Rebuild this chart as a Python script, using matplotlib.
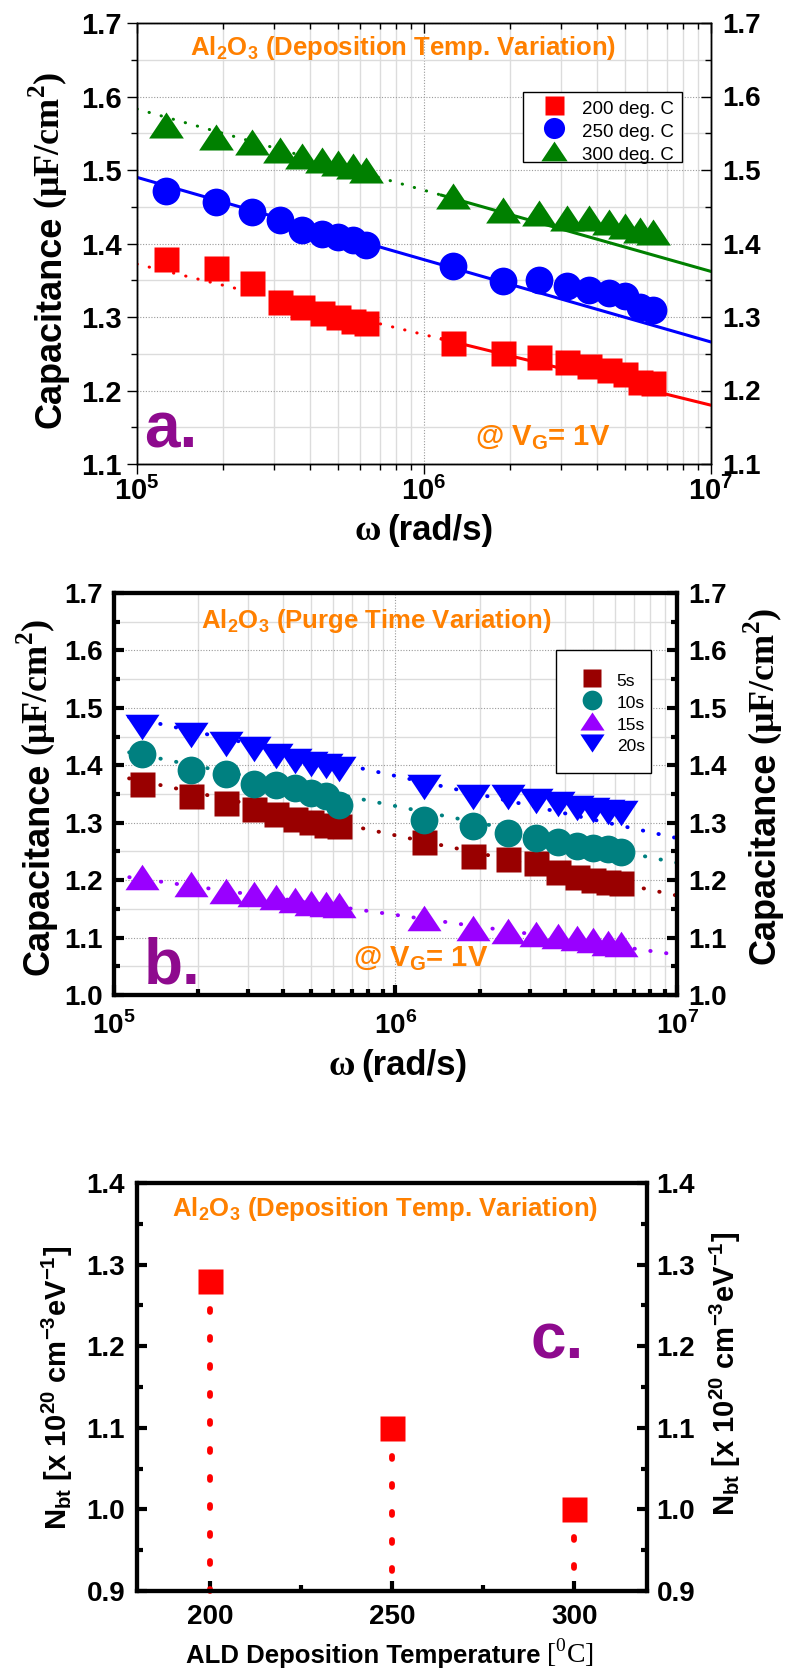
import numpy as np
import matplotlib
matplotlib.use("Agg")
from matplotlib import pyplot as plt
from matplotlib.lines import Line2D
from matplotlib.patches import Rectangle
from matplotlib.ticker import MultipleLocator, LogLocator, NullFormatter, FuncFormatter, FormatStrFormatter

SANS = "Liberation Sans"
SERIF = "Liberation Serif"
plt.rcParams["font.family"] = [SANS, "DejaVu Sans"]
plt.rcParams["font.weight"] = "bold"

# angular frequencies (rad/s), shared by panels a and b
omega = [1.26e5, 1.88e5, 2.51e5, 3.14e5, 3.77e5, 4.40e5, 5.03e5, 5.65e5, 6.28e5,
         1.26e6, 1.88e6, 2.51e6, 3.14e6, 3.77e6, 4.40e6, 5.03e6, 5.65e6, 6.28e6]

# panel a: capacitance vs deposition temperature (uF/cm^2)
temp_labels = ["200 deg. C", "250 deg. C", "300 deg. C"]
cap_200 = [1.379, 1.367, 1.346, 1.320, 1.313, 1.305, 1.300, 1.295, 1.292,
           1.265, 1.251, 1.246, 1.239, 1.233, 1.228, 1.222, 1.211, 1.210]
cap_250 = [1.471, 1.457, 1.443, 1.432, 1.419, 1.413, 1.409, 1.405, 1.398,
           1.370, 1.349, 1.350, 1.342, 1.337, 1.333, 1.328, 1.314, 1.310]
cap_300 = [1.561, 1.545, 1.538, 1.527, 1.519, 1.513, 1.510, 1.506, 1.500,
           1.465, 1.446, 1.441, 1.435, 1.435, 1.429, 1.424, 1.419, 1.415]
fit_omega = [1e5, 1e7]
fit_200 = [1.372, 1.180]
fit_250 = [1.490, 1.266]
fit_300 = [1.583, 1.362]
solid_from = 1.15e6

# panel b: capacitance vs purge time
purge_labels = ["5s", "10s", "15s", "20s"]
purge_5s = [1.367, 1.346, 1.335, 1.324, 1.315, 1.307, 1.302, 1.296, 1.294,
            1.266, 1.242, 1.236, 1.229, 1.214, 1.205, 1.200, 1.197, 1.195]
purge_10s = [1.419, 1.392, 1.385, 1.368, 1.365, 1.360, 1.352, 1.347, 1.331,
             1.304, 1.294, 1.282, 1.273, 1.266, 1.260, 1.256, 1.254, 1.249]
purge_15s = [1.205, 1.193, 1.181, 1.176, 1.170, 1.165, 1.161, 1.159, 1.156,
             1.134, 1.117, 1.111, 1.107, 1.102, 1.099, 1.096, 1.091, 1.089]
purge_20s = [1.466, 1.452, 1.437, 1.428, 1.417, 1.408, 1.403, 1.398, 1.393,
             1.363, 1.344, 1.344, 1.338, 1.332, 1.326, 1.322, 1.318, 1.317]
fit_5s = [1.383, 1.173]
fit_10s = [1.428, 1.230]
fit_15s = [1.209, 1.070]
fit_20s = [1.490, 1.273]

# panel c: border trap density
dep_temps = [200, 250, 300]
nbt = [1.28, 1.10, 1.00]

W_PX, H_PX = 785, 1675
ORANGE = "#ff8000"
LABEL_PURPLE = "#8e0a8e"

TRI_UP = [(-1, -0.75), (1, -0.75), (0, 0.75)]
TRI_DOWN = [(-1, 0.75), (1, 0.75), (0, -0.75)]
DOT = (0, (0.1, 4.0))


def rect(left, top, right, bottom):
    return [left / W_PX, 1 - bottom / H_PX, (right - left) / W_PX, (bottom - top) / H_PX]


def rich_label(fig, px, py, pieces, vertical=False, gap=6):
    # lay several differently styled strings end to end, centred on (px, py)
    r = fig.canvas.get_renderer()
    items = []
    for s, kw in pieces:
        t = fig.text(0, 0, s, rotation=90 if vertical else 0, rotation_mode="anchor",
                     ha="left", va="baseline", **kw)
        bb = t.get_window_extent(r)
        items.append((t, bb.height if vertical else bb.width))
    total = sum(w for _, w in items) + gap * (len(items) - 1)
    if vertical:
        pos = (H_PX - py) - total / 2
        for t, w in items:
            t.set_position((px / W_PX, pos / H_PX))
            pos += w + gap
    else:
        pos = px - total / 2
        for t, w in items:
            t.set_position((pos / W_PX, 1 - py / H_PX))
            pos += w + gap


def boxed_legend(ax, handles, labels, box, anchor, size, hlen, hpad, row_px, mscale):
    # legend entries inside a plain rectangular frame
    ax.add_patch(Rectangle(box[:2], box[2], box[3], transform=ax.transAxes,
                           fc="white", ec="black", lw=1.0, zorder=9))
    fs_px = size * 100 / 72
    # row height of a legend entry is about fontsize * (0.65 * handleheight + 0.245)
    hh = (row_px / fs_px - 0.245) / 0.65
    leg = ax.legend(handles, labels, loc="upper left", bbox_to_anchor=anchor,
                    prop={"family": SANS, "weight": "normal", "size": size},
                    frameon=False, borderpad=0, borderaxespad=0,
                    handlelength=hlen, handleheight=hh, handletextpad=hpad,
                    labelspacing=0, markerscale=mscale)
    leg.set_zorder(10)


def log_label(v, pos):
    return "10$^\\mathregular{%d}$" % round(np.log10(v))


def setup_log_x(ax):
    ax.set_xscale("log")
    ax.set_xlim(1e5, 1e7)
    ax.xaxis.set_major_locator(LogLocator(base=10))
    ax.xaxis.set_minor_locator(LogLocator(base=10, subs=np.arange(2, 10)))
    ax.xaxis.set_minor_formatter(NullFormatter())
    ax.xaxis.set_major_formatter(FuncFormatter(log_label))


def setup_y(ax, lo, hi):
    ax.set_ylim(lo, hi)
    ax.yaxis.set_major_locator(MultipleLocator(0.1))
    ax.yaxis.set_minor_locator(MultipleLocator(0.05))
    ax.yaxis.set_major_formatter(FormatStrFormatter("%.1f"))


def add_grid(ax):
    ax.grid(which="major", color="#9a9a9a", ls=(0, (1, 1.5)), lw=0.8)
    ax.grid(which="minor", color="#dcdcdc", ls="-", lw=1.0)
    ax.set_axisbelow(True)


def right_twin(ax, lo, hi, lw, pad):
    axr = ax.twinx()
    setup_y(axr, lo, hi)
    axr.tick_params(which="both", direction="in", width=lw, labelsize=20, pad=pad)
    axr.tick_params(which="major", length=7)
    axr.tick_params(which="minor", length=4)
    for sp in axr.spines.values():
        sp.set_linewidth(lw)
    return axr


def fit_line(ax, fit, color, dotted_until=None):
    lx = np.log10(fit_omega)
    if dotted_until is None:
        ax.plot(fit_omega, fit, color=color, lw=2.8, ls=DOT, dash_capstyle="round", zorder=4)
        return
    yb = np.interp(np.log10(dotted_until), lx, fit)
    ax.plot([fit_omega[0], dotted_until], [fit[0], yb], color=color, lw=2.2, ls=DOT,
            dash_capstyle="round", zorder=4)
    ax.plot([dotted_until, fit_omega[1]], [yb, fit[1]], color=color, lw=2.2, zorder=4)


def panel_a(fig):
    ax = fig.add_axes(rect(137, 23, 711, 464))
    setup_log_x(ax)
    setup_y(ax, 1.1, 1.7)
    add_grid(ax)
    ax.tick_params(which="both", direction="out", width=1, labelsize=21)
    ax.tick_params(axis="x", pad=2)
    ax.tick_params(axis="y", pad=4)
    ax.tick_params(which="major", length=7)
    ax.tick_params(which="minor", length=4)

    ax.plot(omega, cap_200, "s", color="#ff0000", ms=18, mec="none", zorder=3)
    ax.plot(omega, cap_250, "o", color="#0000ff", ms=20, mec="none", zorder=3)
    ax.plot(omega, cap_300, marker=TRI_UP, ls="none", color="#008000", ms=25, mec="none", zorder=3)
    fit_line(ax, fit_200, "#ff0000", solid_from)
    fit_line(ax, fit_250, "#0000ff", fit_omega[0])
    fit_line(ax, fit_300, "#008000", solid_from)

    handles = [Line2D([], [], marker="s", ls="none", color="#ff0000", ms=18, mec="none"),
               Line2D([], [], marker="o", ls="none", color="#0000ff", ms=20, mec="none"),
               Line2D([], [], marker=TRI_UP, ls="none", color="#008000", ms=25, mec="none")]
    boxed_legend(ax, handles, temp_labels, (0.672, 0.685, 0.277, 0.159), (0.704, 0.834),
                 13.5, 1.4, 0.79, 23, 0.76)

    ax.text(0.464, 0.927, "Al$_\\mathregular{2}$O$_\\mathregular{3}$ (Deposition Temp. Variation)",
            transform=ax.transAxes, ha="center", va="baseline", color=ORANGE, size=18.5)
    ax.text(0.706, 0.043, "@ V$_\\mathregular{G}$= 1V", transform=ax.transAxes,
            ha="center", va="baseline", color=ORANGE, size=21)
    ax.text(0.012, 0.038, "a.", transform=ax.transAxes, ha="left", va="baseline",
            color=LABEL_PURPLE, size=46)
    for sp in ax.spines.values():
        sp.set_linewidth(1.0)

    right_twin(ax, 1.1, 1.7, 1.0, 8)
    axt = ax.twiny()
    setup_log_x(axt)
    axt.tick_params(which="both", direction="in", labeltop=False, width=1)
    axt.tick_params(which="major", length=7)
    axt.tick_params(which="minor", length=4)

    rich_label(fig, 60, 250, [("Capacitance", dict(family=SANS, weight="bold", size=26)),
                              ("(μF/cm$^\\mathregular{2}$)", dict(family=SERIF, weight="bold", size=26))],
               vertical=True)
    rich_label(fig, 424, 540, [("ω", dict(family=SERIF, weight="bold", size=26)),
                               ("(rad/s)", dict(family=SANS, weight="bold", size=25))])


def panel_b(fig):
    ax = fig.add_axes(rect(113.5, 593, 677.5, 995))
    setup_log_x(ax)
    setup_y(ax, 1.0, 1.7)
    add_grid(ax)
    ax.tick_params(which="both", direction="in", width=3, labelsize=20, top=False)
    ax.tick_params(axis="x", pad=12)
    ax.tick_params(axis="y", pad=7.5)
    ax.tick_params(which="major", length=7)
    ax.tick_params(which="minor", length=4)

    series = [(purge_5s, fit_5s, "s", "#990000", 18),
              (purge_10s, fit_10s, "o", "#008080", 20),
              (purge_15s, fit_15s, TRI_UP, "#9900ff", 24.5),
              (purge_20s, fit_20s, TRI_DOWN, "#0000ff", 24.5)]
    handles = []
    for vals, fit, mk, col, ms in series:
        ax.plot(omega, vals, marker=mk, ls="none", color=col, ms=ms, mec="none", zorder=3)
        fit_line(ax, fit, col)
        handles.append(Line2D([], [], marker=mk, ls="none", color=col, ms=ms, mec="none"))
    boxed_legend(ax, handles, purge_labels, (0.785, 0.551, 0.168, 0.307), (0.823, 0.809),
                 12.5, 1.6, 0.65, 21.7, 0.71)

    ax.text(0.465, 0.912, "Al$_\\mathregular{2}$O$_\\mathregular{3}$ (Purge Time Variation)",
            transform=ax.transAxes, ha="center", va="baseline", color=ORANGE, size=18.5)
    ax.text(0.545, 0.072, "@ V$_\\mathregular{G}$= 1V", transform=ax.transAxes,
            ha="center", va="baseline", color=ORANGE, size=21)
    ax.text(0.053, 0.028, "b.", transform=ax.transAxes, ha="left", va="baseline",
            color=LABEL_PURPLE, size=46)
    for sp in ax.spines.values():
        sp.set_linewidth(3)
    right_twin(ax, 1.0, 1.7, 3, 8)

    cap_pieces = [("Capacitance", dict(family=SANS, weight="bold", size=26)),
                  ("(μF/cm$^\\mathregular{2}$)", dict(family=SERIF, weight="bold", size=26))]
    rich_label(fig, 48, 797, cap_pieces, vertical=True)
    rich_label(fig, 775, 786, cap_pieces, vertical=True)
    rich_label(fig, 398, 1075, [("ω", dict(family=SERIF, weight="bold", size=26)),
                                ("(rad/s)", dict(family=SANS, weight="bold", size=25))])


def panel_c(fig):
    ax = fig.add_axes(rect(137, 1183, 647, 1591))
    ax.set_xlim(180, 320)
    setup_y(ax, 0.9, 1.4)
    ax.xaxis.set_major_locator(MultipleLocator(50))
    ax.xaxis.set_minor_locator(MultipleLocator(25))
    ax.tick_params(which="both", direction="in", width=3, labelsize=20, top=False)
    ax.tick_params(axis="x", pad=9)
    ax.tick_params(axis="y", pad=8.5)
    ax.tick_params(which="major", length=7)
    ax.tick_params(which="minor", length=4)

    floor = ax.get_ylim()[0]
    for t, v in zip(dep_temps, nbt):
        ax.plot([t, t], [v, floor], color="#ff0000", lw=4.2, ls=(0, (0.5, 4.3)),
                dash_capstyle="round", zorder=2, clip_on=False)
    ax.plot(dep_temps, nbt, "s", color="#ff0000", ms=18, mec="none", zorder=3)

    ax.text(0.486, 0.919, "Al$_\\mathregular{2}$O$_\\mathregular{3}$ (Deposition Temp. Variation)",
            transform=ax.transAxes, ha="center", va="baseline", color=ORANGE, size=18.5)
    ax.text(0.771, 0.571, "c.", transform=ax.transAxes, ha="left", va="baseline",
            color=LABEL_PURPLE, size=46)
    for sp in ax.spines.values():
        sp.set_linewidth(3)
    right_twin(ax, 0.9, 1.4, 3, 7)

    nbt_label = "N$_\\mathregular{bt}$ [x 10$^\\mathregular{20}$ cm$^\\mathregular{-3}$eV$^\\mathregular{-1}$]"
    rich_label(fig, 67, 1388, [(nbt_label, dict(family=SANS, weight="bold", size=21))], vertical=True)
    rich_label(fig, 735, 1374, [(nbt_label, dict(family=SANS, weight="bold", size=21))], vertical=True)
    rich_label(fig, 390, 1663, [("ALD Deposition Temperature", dict(family=SANS, weight="bold", size=18.5)),
                                ("[$^\\mathregular{0}$C]", dict(family=SERIF, weight="normal", size=20))])


def main():
    fig = plt.figure(figsize=(W_PX / 100, H_PX / 100), dpi=100)
    panel_a(fig)
    panel_b(fig)
    panel_c(fig)
    fig.savefig("out.png", dpi=100)


if __name__ == "__main__":
    main()
